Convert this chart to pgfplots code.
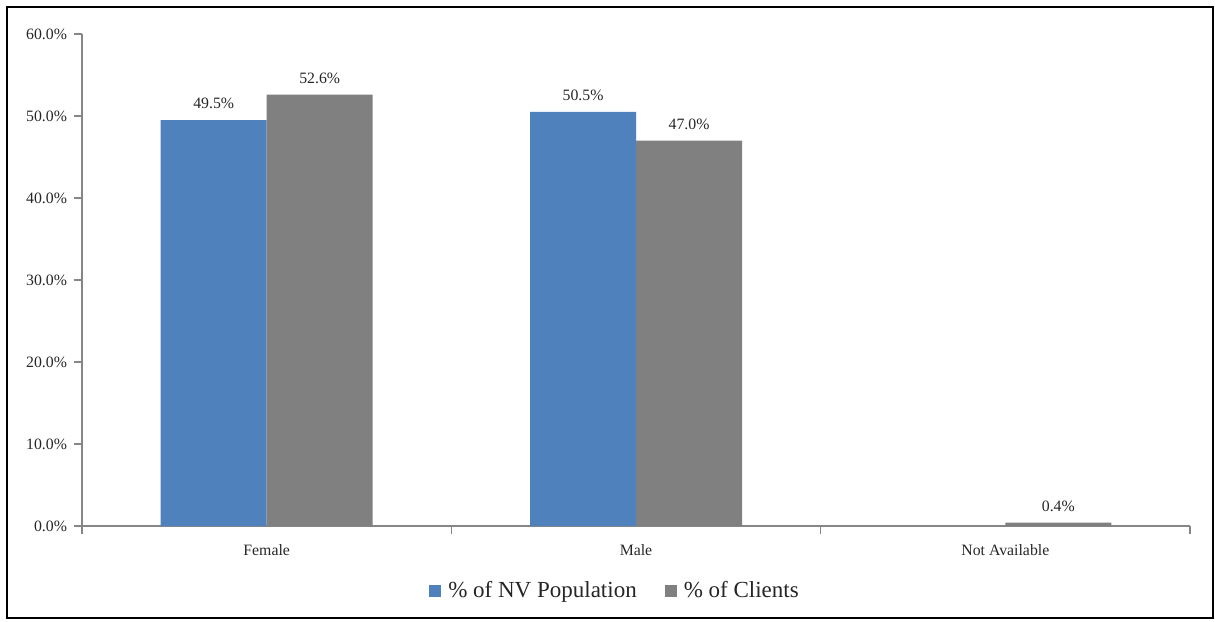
\documentclass[border=0pt]{standalone}
\usepackage{pgfplots}
\pgfplotsset{compat=1.18}
\usepackage{fontspec}
\setmainfont{Liberation Serif}
\definecolor{cblue}{HTML}{4F81BD}
\definecolor{cgray}{HTML}{808080}
\definecolor{axgray}{HTML}{868686}
\begin{document}
\begin{tikzpicture}
\useasboundingbox (0,0) rectangle (607.5pt,310.5pt);
\draw[black,line width=0.6pt] (3.5pt,1.5pt) rectangle (606.5pt,307pt);
\begin{axis}[
  at={(41pt,47.5pt)}, anchor=south west,
  scale only axis, width=554pt, height=246pt,
  xmin=-0.5, xmax=2.5, ymin=0, ymax=60,
  axis x line*=bottom, axis y line*=left,
  axis line style={axgray, line width=0.6pt},
  ytick={0,10,20,30,40,50,60},
  yticklabel={\pgfmathprintnumber[fixed,fixed zerofill,precision=1]{\tick}\%},
  /pgf/number format/assume math mode=true,
  xtick={-0.5,0.5,1.5,2.5},
  xticklabels={},
  extra x ticks={0,1,2},
  extra x tick labels={Female,Male,Not Available},
  extra x tick style={major tick length=0pt, xticklabel style={yshift=-5.5pt}},
  tick style={draw=axgray, line width=0.6pt},
  major tick length=4pt, tick align=outside,
  tick label style={font=\fontsize{7.9}{9}\selectfont, text=black!85},
  ybar, bar width=53pt,
  nodes near coords={\pgfmathprintnumber[fixed,fixed zerofill,precision=1]{\pgfplotspointmeta}\%},
  nodes near coords style={font=\fontsize{7.9}{9}\selectfont, text=black!85, yshift=2pt},
  point meta=explicit,
  legend style={at={(0.482,-0.132)}, anchor=center, draw=none, legend columns=2,
    font=\fontsize{11.5}{13}\selectfont, text=black!85,
    /tikz/every odd column/.append style={column sep=1.5pt},
    /tikz/every even column/.append style={column sep=12pt}},
  legend image code/.code={\fill[#1] (-2pt,-3pt) rectangle (4pt,3pt);},
]
\addplot[fill=cblue, draw=none, bar shift=-26.5pt] coordinates {(0,49.5)[49.5] (1,50.5)[50.5]};
\addplot[fill=cgray, draw=none, bar shift=26.5pt] coordinates {(0,52.6)[52.6] (1,47.0)[47.0] (2,0.4)[0.4]};
\legend{\% of NV Population, \% of Clients}
\end{axis}
\end{tikzpicture}
\end{document}
